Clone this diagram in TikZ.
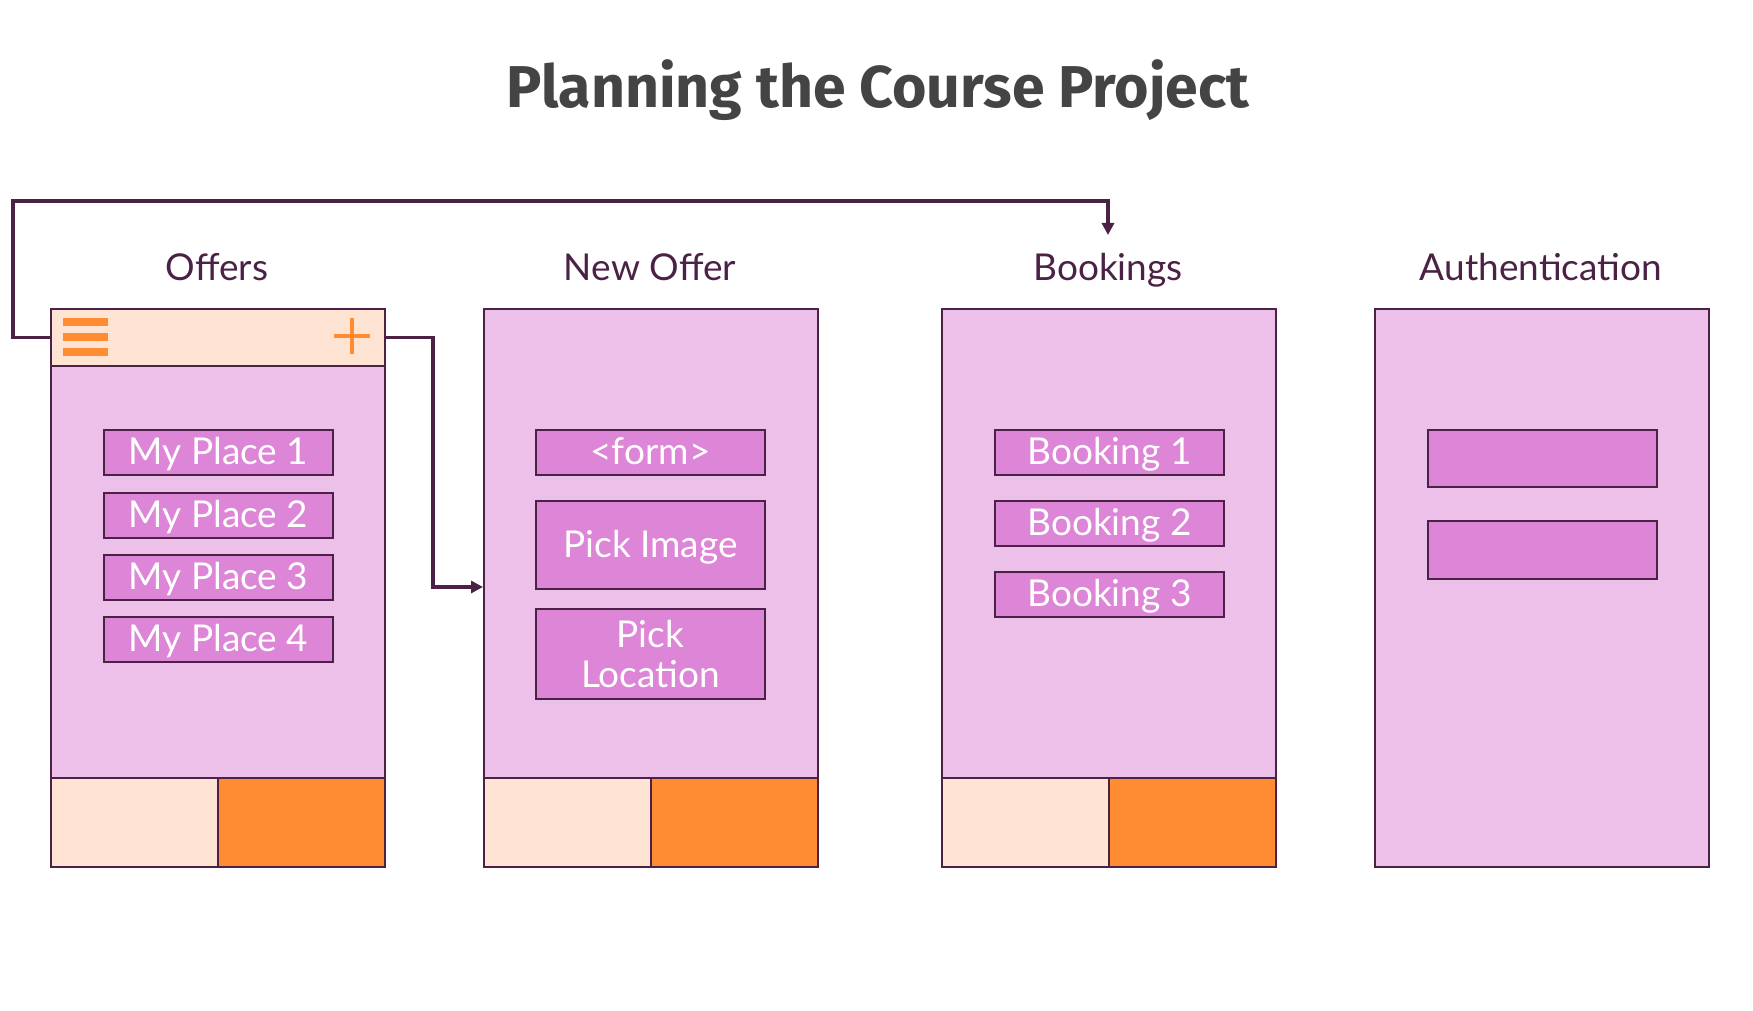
\documentclass[tikz,border=0pt]{standalone}
\usepackage{fontspec}
\setmainfont{Lato}
\newfontfamily\titlefont{Fira Sans}
\usetikzlibrary{arrows.meta}
\definecolor{framefill}{HTML}{EDC0EA}
\definecolor{itemfill}{HTML}{DD85D6}
\definecolor{edge}{HTML}{4B2245}
\definecolor{hdrfill}{HTML}{FFE4D3}
\definecolor{orng}{HTML}{FF8C33}
\definecolor{titlegray}{HTML}{444444}
\tikzset{
  screen/.style={draw=edge, line width=1pt, fill=framefill, anchor=north west, inner sep=0pt,
    minimum width=167pt, minimum height=279pt},
  hdrbox/.style={draw=edge, line width=1pt, fill=hdrfill, anchor=north west, inner sep=0pt,
    minimum width=167pt, minimum height=28.5pt},
  tabl/.style={draw=edge, line width=1pt, fill=hdrfill, anchor=north west, inner sep=0pt,
    minimum width=83.5pt, minimum height=44.5pt},
  tabr/.style={draw=edge, line width=1pt, fill=orng, anchor=north west, inner sep=0pt,
    minimum width=83.5pt, minimum height=44.5pt},
  item/.style={draw=edge, line width=1pt, fill=itemfill, anchor=north west, inner sep=0pt,
    minimum width=114.5pt, minimum height=22.5pt, text=white, font=\fontsize{18.5}{20}\selectfont,
    align=center, text height=13pt, text depth=1pt},
  lbl/.style={text=edge, font=\fontsize{18.5}{22}\selectfont, anchor=base},
  conn/.style={draw=edge, line width=1.7pt, -{Triangle[length=6pt,width=6pt]}},
}
\begin{document}
\begin{tikzpicture}[x=0.5pt,y=-0.5pt]
\fill[white] (0,0) rectangle (1753,1011);
\useasboundingbox (0,0) rectangle (1753,1011);

\node[text=titlegray, font=\titlefont\bfseries\fontsize{29.5}{34}\selectfont, anchor=base] (title) at (878,108) {Planning the Course Project};

% labels
\node[lbl] (l1) at (217,280) {Offers};
\node[lbl] (l2) at (650,280) {New Offer};
\node[lbl] (l3) at (1108,280) {Bookings};
\node[lbl] (l4) at (1541,280) {Authentication};

% screens
\node[screen] (f1) at (50,308) {};
\node[screen] (f2) at (483,308) {};
\node[screen] (f3) at (941,308) {};
\node[screen] (f4) at (1374,308) {};

% header of Offers
\node[hdrbox] (hdr1) at (50,308) {};
\fill[orng] (63,318) rectangle (108,326);
\fill[orng] (63,333) rectangle (108,341);
\fill[orng] (63,348) rectangle (108,356);
\draw[orng, line width=2pt] (334,336) -- (370,336) (352,318) -- (352,354);

% tabs
\node[tabl] (t1a) at (50,777) {};
\node[tabr] (t1b) at (217,777) {};
\node[tabl] (t2a) at (483,777) {};
\node[tabr] (t2b) at (650,777) {};
\node[tabl] (t3a) at (941,777) {};
\node[tabr] (t3b) at (1108,777) {};

% Offers items
\node[item] (o1) at (103,429) {My Place 1};
\node[item] (o2) at (103,492) {My Place 2};
\node[item] (o3) at (103,554) {My Place 3};
\node[item] (o4) at (103,616) {My Place 4};

% New Offer items
\node[item] (n1) at (535,429) {<form>};
\node[item, minimum height=44pt] (n2) at (535,500) {Pick Image};
\node[item, minimum height=45pt, text height=, text depth=] (n3) at (535,608) {Pick\\Location};

% Bookings items
\node[item] (b1) at (994,429) {Booking 1};
\node[item] (b2) at (994,500) {Booking 2};
\node[item] (b3) at (994,571) {Booking 3};

% Auth items
\node[item, minimum height=28.5pt] (a1) at (1427,429) {};
\node[item, minimum height=29pt] (a2) at (1427,520) {};

% connectors
\coordinate (bk) at (1108,235);
\coordinate (c2) at (433,587);
\draw[conn] (hdr1.west) -| (13,201) -| (bk);
\draw[conn] (hdr1.east) -| (c2) -- (c2 -| f2.west);
\end{tikzpicture}
\end{document}
